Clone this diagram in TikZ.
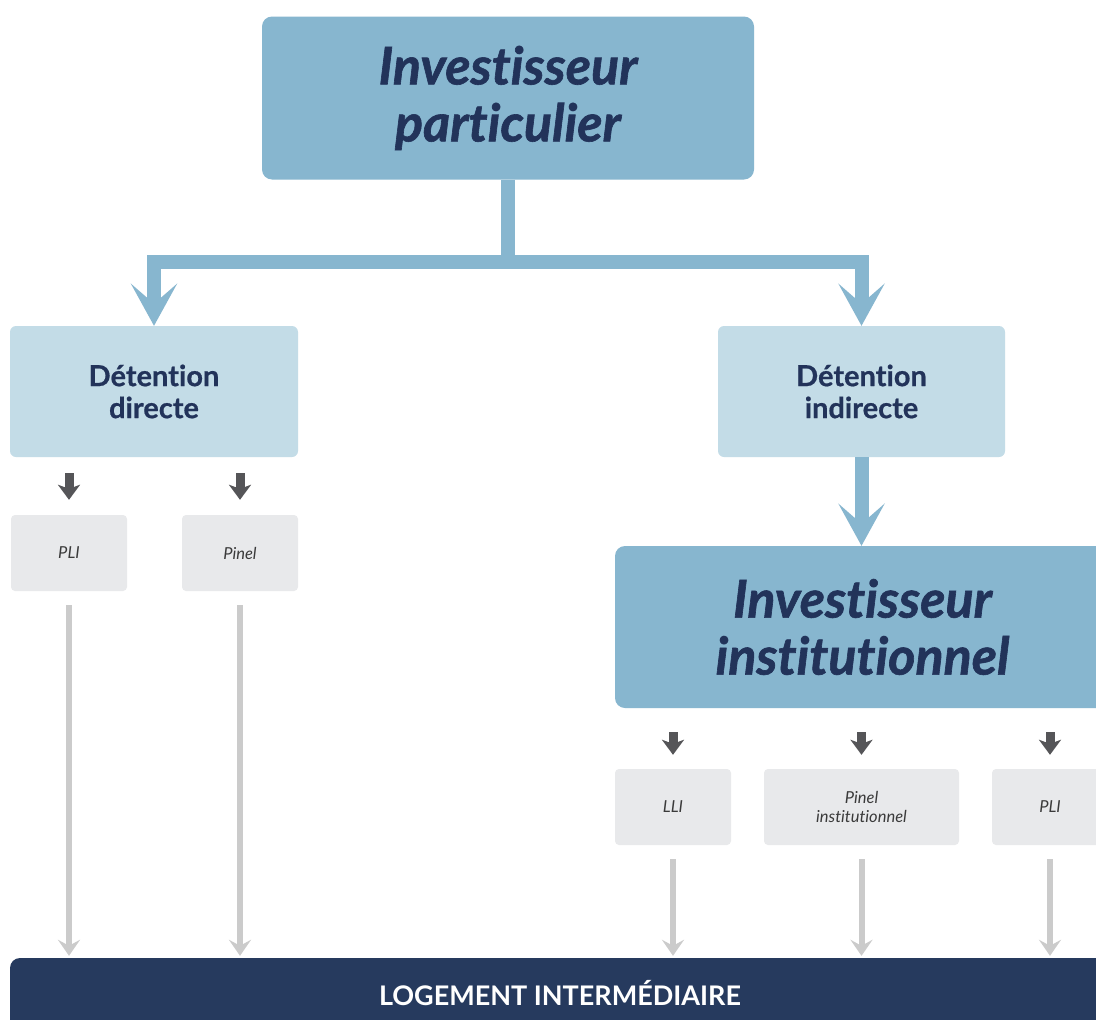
\documentclass[tikz,border=0pt]{standalone}
\usepackage{fontspec}
\setmainfont{Lato}[Ligatures=NoCommon]
\usetikzlibrary{arrows.meta}
\definecolor{bluebox}{HTML}{87B6CF}
\definecolor{paleblue}{HTML}{C3DCE7}
\definecolor{greybox}{HTML}{E8E9EB}
\definecolor{navy}{HTML}{22335A}
\definecolor{barnavy}{HTML}{263A5E}
\definecolor{darkarrow}{HTML}{555558}
\definecolor{lightline}{HTML}{CBCBCB}
\definecolor{smalltext}{HTML}{3A3A3A}
\newcommand{\heavy}{\bfseries\addfontfeatures{FakeBold=1.2}}
\tikzset{
  mainbox/.style={fill=bluebox, rounded corners=10pt, inner sep=0pt, align=center,
    text=navy, font=\fontsize{52}{57}\selectfont\itshape\heavy},
  holdbox/.style={fill=paleblue, rounded corners=6pt, inner sep=0pt, align=center,
    text=navy, font=\fontsize{29}{32}\selectfont\bfseries\addfontfeatures{FakeBold=0.6},
    minimum width=288pt, minimum height=131pt},
  schemebox/.style={fill=greybox, rounded corners=4pt, inner sep=0pt, align=center,
    text=smalltext, font=\fontsize{16.5}{19}\selectfont\itshape, minimum height=76pt},
  bigflow/.style={draw=bluebox, line width=14pt, line join=miter,
    -{Stealth[length=42pt,width=46pt,inset=20pt]}},
  pointer/.style={draw=darkarrow, line width=9pt,
    -{Stealth[length=15pt,width=22pt,inset=4pt]}},
  feed/.style={draw=lightline, line width=6pt,
    -{Stealth[length=16pt,width=22pt,inset=6pt]}, shorten <=14pt, shorten >=2pt}
}
\begin{document}
\begin{tikzpicture}[x=1pt,y=-1pt]
\useasboundingbox (0,0) rectangle (1096,1020);
\clip (0,0) rectangle (1096,1020);
\fill[white] (0,0) rectangle (1096,1020);

% investors
\node[mainbox, minimum width=492pt, minimum height=163pt] (top) at (508,98)
  {Investisseur\\particulier};
\node[holdbox] (dd) at (154,391.5) {Détention\\directe};
\node[holdbox, minimum width=287pt] (di) at (861.5,391.5) {Détention\\indirecte};
\node[mainbox, minimum width=495pt, minimum height=162pt] (inst) at (862.5,627)
  {Investisseur\\institutionnel};

% schemes
\node[schemebox, minimum width=116pt] (pli1) at (69,553) {PLI};
\node[schemebox, minimum width=116pt] (pinel) at (240,553) {Pinel};
\node[schemebox, minimum width=116pt] (lli) at (673,807) {LLI};
\node[schemebox, minimum width=195pt] (pinst) at (861.5,807) {Pinel\\institutionnel};
\node[schemebox, minimum width=116pt] (pli2) at (1050,807) {PLI};

% housing bar
\node[fill=barnavy, rounded corners=10pt, minimum width=1100pt, minimum height=84pt,
  inner sep=0pt] (bar) at (560,1000) {};
\node[text=white, font=\fontsize{27}{30}\selectfont\bfseries, inner sep=0pt, anchor=base]
  (bartext) at (560,1005) {LOGEMENT INTERMÉDIAIRE};

% split from the private investor
\coordinate (fork) at (508,262);
\draw[bigflow] (top.south) -- (fork) -| (dd.north);
\draw[bigflow] (fork) -| (di.north);
\draw[bigflow] (di.south) -- (di.south |- inst.north);

% small pointers to the schemes
\draw[pointer, shorten <=16pt, shorten >=15pt] (dd.south -| pli1.north) -- (pli1.north);
\draw[pointer, shorten <=16pt, shorten >=15pt] (dd.south -| pinel.north) -- (pinel.north);
\draw[pointer, shorten <=24pt, shorten >=14pt] (inst.south -| lli.north) -- (lli.north);
\draw[pointer, shorten <=24pt, shorten >=14pt] (inst.south -| pinst.north) -- (pinst.north);
\draw[pointer, shorten <=24pt, shorten >=14pt] (inst.south -| pli2.north) -- (pli2.north);

% schemes feeding the housing bar
\foreach \s in {pli1,pinel,lli,pinst,pli2}
  \draw[feed] (\s.south) -- (\s.south |- bar.north);
\end{tikzpicture}
\end{document}
